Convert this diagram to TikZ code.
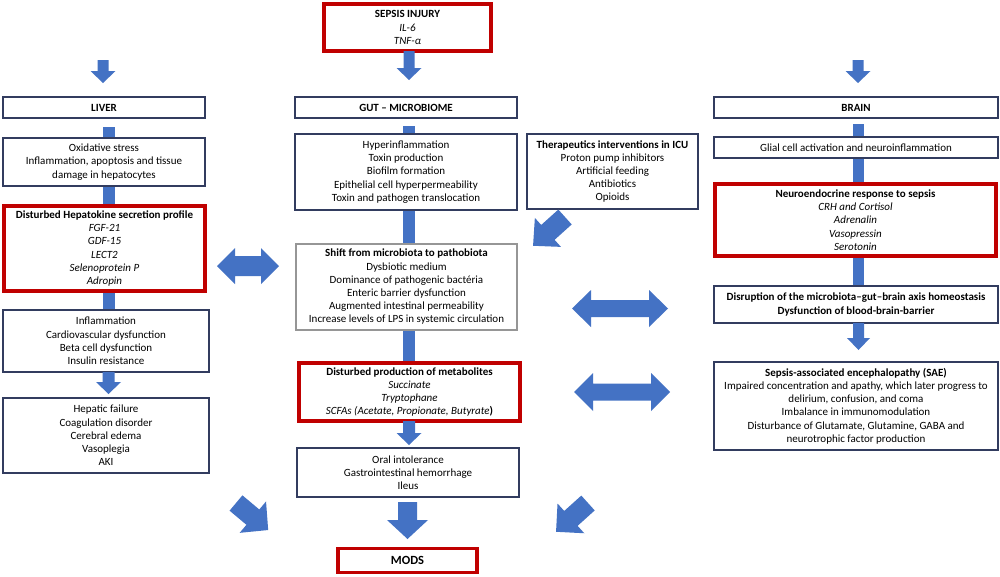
\documentclass[tikz,border=0pt]{standalone}
\usepackage{fontspec}
\setmainfont{Carlito}
\definecolor{ablue}{HTML}{4472C4}
\definecolor{boxred}{HTML}{C00000}
\definecolor{boxline}{RGB}{50,60,95}
\definecolor{shiftline}{RGB}{150,150,150}
\newcommand\myfs{\fontsize{11}{13.2}\selectfont}
\pgfdeclarelayer{bg}
\pgfsetlayers{bg,main}
\tikzset{
  pics/barrow/.style n args={4}{code={
    \fill[ablue] (0,-#2/2) -- ({#1-#4},-#2/2) -- ({#1-#4},-#3/2) -- (#1,0) -- ({#1-#4},#3/2) -- ({#1-#4},#2/2) -- (0,#2/2) -- cycle;}},
  pics/dbarrow/.style n args={4}{code={
    \fill[ablue] (0,0) -- (#4,-#3/2) -- (#4,-#2/2) -- ({#1-#4},-#2/2) -- ({#1-#4},-#3/2) -- (#1,0) -- ({#1-#4},#3/2) -- ({#1-#4},#2/2) -- (#4,#2/2) -- (#4,#3/2) -- cycle;}},
}
\begin{document}
\begin{tikzpicture}[x=1pt,y=-1pt,
  box/.style={draw=boxline, line width=1.1pt, fill=white, inner sep=0pt, outer sep=0pt, align=center, font=\myfs},
  rbox/.style={box, draw=boxred, line width=3.6pt},
  bar/.style={draw=ablue, line width=12pt},
]
\useasboundingbox (0,0) rectangle (1000,576);
\begin{pgfonlayer}{bg}
  \fill[white] (0,0) rectangle (1000,576);
\end{pgfonlayer}

% header
\node[rbox, minimum width=167, minimum height=47] (sepsis) at (407.5,27.5) {\textbf{SEPSIS INJURY}\\\textit{IL-6}\\\textit{TNF-α}};

\node[box, minimum width=202, minimum height=21] (liver) at (104,107.5) {\textbf{LIVER}};
\node[box, minimum width=222, minimum height=21] (gut) at (406,107.5) {\textbf{GUT – MICROBIOME}};
\node[box, minimum width=284, minimum height=21] (brain) at (856,107.5) {\textbf{BRAIN}};

% liver column
\node[box, minimum width=202, minimum height=48] (ox) at (104,162) {Oxidative stress\\Inflammation, apoptosis and tissue\\damage in hepatocytes};
\node[rbox, minimum width=201, minimum height=85] (hepato) at (104.5,248.5) {\textbf{Disturbed Hepatokine secretion profile}\\\textit{FGF-21}\\\textit{GDF-15}\\\textit{LECT2}\\\textit{Selenoprotein P}\\\textit{Adropin}};
\node[box, minimum width=206, minimum height=62] (infl) at (106,341) {Inflammation\\Cardiovascular dysfunction\\Beta cell dysfunction\\Insulin resistance};
\node[box, minimum width=206, minimum height=75] (hepfail) at (106,435.5) {Hepatic failure\\Coagulation disorder\\Cerebral edema\\Vasoplegia\\AKI};

% gut column
\node[box, minimum width=222, minimum height=76] (hyper) at (406,172) {Hyperinflammation\\Toxin production\\Biofilm formation\\Epithelial cell hyperpermeability\\Toxin and pathogen translocation};
\node[box, minimum width=171, minimum height=75] (ther) at (612.5,171.5) {\textbf{Therapeutics interventions in ICU}\\Proton pump inhibitors\\Artificial feeding\\Antibiotics\\Opioids};
\node[box, draw=shiftline, minimum width=221, minimum height=86] (shift) at (406.5,287) {\textbf{Shift from microbiota to pathobiota}\\Dysbiotic medium\\Dominance of pathogenic bactéria\\Enteric barrier dysfunction\\Augmented intestinal permeability\\Increase levels of LPS in systemic circulation};
\node[rbox, minimum width=221, minimum height=58] (metab) at (409.5,392) {\textbf{Disturbed production of metabolites}\\\textit{Succinate}\\\textit{Tryptophane}\\\textit{SCFAs (Acetate, Propionate, Butyrate}\textbf{)}};
\node[box, minimum width=222, minimum height=49] (oral) at (408,472.5) {Oral intolerance\\Gastrointestinal hemorrhage\\Ileus};
\node[rbox, minimum width=139, minimum height=24, font=\fontsize{12.5}{14}\selectfont] (mods) at (407.5,560.5) {\textbf{MODS}};

% brain column
\node[box, minimum width=284, minimum height=21] (glial) at (856,147.5) {Glial cell activation and neuroinflammation};
\node[rbox, minimum width=281, minimum height=72] (neuro) at (855.5,220) {\textbf{Neuroendocrine response to sepsis}\\\textit{CRH and Cortisol}\\\textit{Adrenalin}\\\textit{Vasopressin}\\\textit{Serotonin}};
\node[box, minimum width=284, minimum height=37] (disr) at (856,304.5) {\textbf{Disruption of the microbiota–gut–brain axis homeostasis}\\\textbf{Dysfunction of blood-brain-barrier}};
\node[box, minimum width=284, minimum height=88] (sae) at (856,406) {\textbf{Sepsis-associated encephalopathy (SAE)}\\Impaired concentration and apathy, which later progress to\\delirium, confusion, and coma\\Imbalance in immunomodulation\\Disturbance of Glutamate, Glutamine, GABA and\\neurotrophic factor production};

% column axes
\coordinate (cL) at (108.5,0);
\coordinate (cG) at (409,0);
\coordinate (cB) at (858.5,0);

\begin{pgfonlayer}{bg}
  \draw[bar, shorten <=9pt] (cL |- liver.south) -- (cL |- ox.north);
  \draw[bar] (cL |- ox.south) -- (cL |- hepato.north);
  \draw[bar] (cL |- hepato.south) -- (cL |- infl.north);
  \draw[bar, shorten <=8pt] (cG |- gut.south) -- (cG |- hyper.north);
  \draw[bar] (cG |- hyper.south) -- (cG |- shift.north);
  \draw[bar] (cG |- shift.south) -- (cG |- metab.north);
  \draw[bar, line width=11pt, shorten <=6pt] (cB |- brain.south) -- (cB |- glial.north);
  \draw[bar, line width=11pt] (cB |- glial.south) -- (cB |- neuro.north);
  \draw[bar, line width=11pt] (cB |- neuro.south) -- (cB |- disr.north);
\end{pgfonlayer}

% top arrows
\pic[rotate=-90] at (103,60) {barrow={23}{11}{25}{12}};
\pic[rotate=-90] at (cG |- sepsis.south) {barrow={29}{11}{25}{12}};
\pic[rotate=-90] at (858,60) {barrow={23}{11}{25}{12}};

% headed column arrows
\pic[rotate=-90] at (cL |- infl.south) {barrow={22}{12}{25}{12}};
\pic[rotate=-90] at (cG |- metab.south) {barrow={24}{12}{25}{12}};
\pic[rotate=-90] at (cB |- disr.south) {barrow={27}{11}{23}{12}};

% to MODS
\pic[rotate=-90] at (407.5,502) {barrow={37}{19}{41}{19}};
\pic[rotate=-40] at (236,503) {barrow={42}{20}{41}{20}};
\pic[rotate=-138] at (588,503) {barrow={43}{20}{40}{20}};

% therapeutics arrow
\pic[rotate=-138] at (565,217) {barrow={43}{20}{39}{20}};

% double arrows
\pic at (217,266) {dbarrow={62}{20}{36}{18}};
\pic at (572,308.5) {dbarrow={96}{17}{37}{19}};
\pic at (574,392) {dbarrow={96}{17}{38}{19}};
\end{tikzpicture}
\end{document}
